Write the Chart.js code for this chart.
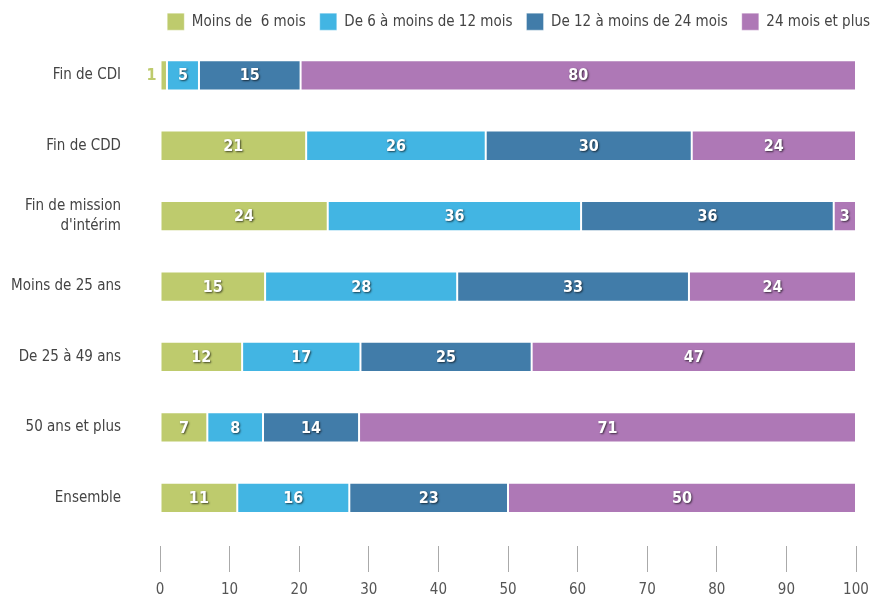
<!DOCTYPE html>
<html>
<head>
<meta charset="utf-8">
<script src="https://cdn.jsdelivr.net/npm/chart.js@4/dist/chart.umd.min.js"></script>
<style>
  html, body { margin: 0; padding: 0; background: #fff; overflow: hidden; }
  #wrap { width: 872px; height: 603px; margin-top: -9px; }
</style>
</head>
<body>
<div id="wrap"><canvas id="chart"></canvas></div>
<script>
// ========== DATA ========== //
const categories = [
  "Fin de CDI",
  "Fin de CDD",
  ["Fin de mission", "d'intérim"],
  "Moins de 25 ans",
  "De 25 à 49 ans",
  "50 ans et plus",
  "Ensemble"
];
const seriesNames = ["Moins de  6 mois", "De 6 à moins de 12 mois", "De 12 à moins de 24 mois", "24 mois et plus"];

const lessThan6 = [1.0, 21.0, 24.1, 15.1, 11.8, 6.8, 11.1];
const from6to12 = [4.6, 25.8, 36.4, 27.6, 17.0, 8.0, 16.1];
const from12to24 = [14.6, 29.6, 36.3, 33.3, 24.6, 13.8, 22.8];
const over24 = [79.8, 23.6, 3.2, 24.0, 46.6, 71.4, 50.0];

const xTicks = [0, 10, 20, 30, 40, 50, 60, 70, 80, 90, 100];

const colors = ["#BECB6D", "#42B5E3", "#417CA9", "#AE78B6"];
const FONT = "'Liberation Sans Narrow', 'DejaVu Sans Condensed', Roboto, sans-serif";

// ========== PLUGINS ========== //
const barLabels = {
  id: "barLabels",
  afterDatasetsDraw(chart) {
    const ctx = chart.ctx;
    ctx.save();
    ctx.font = "bold 16px " + FONT;
    ctx.textBaseline = "middle";
    chart.data.datasets.forEach((ds, di) => {
      const meta = chart.getDatasetMeta(di);
      meta.data.forEach((bar, i) => {
        const txt = String(Math.round(ds.data[i]));
        const w = Math.abs(bar.x - bar.base);
        if (w < 12) {
          // too thin: put the label outside, left of the bar
          ctx.shadowColor = "transparent";
          ctx.fillStyle = colors[di];
          ctx.textAlign = "right";
          ctx.fillText(txt, bar.base - 4, bar.y + 1);
        } else {
          ctx.shadowColor = "rgba(0,0,0,0.65)";
          ctx.shadowBlur = 2;
          ctx.shadowOffsetX = 1;
          ctx.shadowOffsetY = 1;
          ctx.fillStyle = "#fff";
          ctx.textAlign = "center";
          ctx.fillText(txt, (bar.x + bar.base) / 2, bar.y + 1);
        }
      });
    });
    ctx.restore();
  }
};

// push the legend to the right edge of the canvas
const legendShift = {
  id: "legendShift",
  beforeDraw(chart) {
    if (chart.legend) chart.legend.right = chart.width + 12;
  }
};

// ========== CHART ========== //
const seriesValues = [lessThan6, from6to12, from12to24, over24];

new Chart(document.getElementById("chart"), {
  type: "bar",
  data: {
    labels: categories,
    datasets: seriesValues.map((vals, i) => ({
      label: seriesNames[i],
      data: vals,
      backgroundColor: colors[i],
      borderColor: "rgba(255,255,255,0.35)",
      borderWidth: 1,
      borderSkipped: false,
      barPercentage: 0.43,
      categoryPercentage: 1
    }))
  },
  options: {
    indexAxis: "y",
    responsive: true,
    maintainAspectRatio: false,
    animation: false,
    layout: { padding: { left: 0, right: 16, top: 0, bottom: -14 } },
    plugins: {
      tooltip: { enabled: false },
      legend: {
        position: "top",
        align: "end",
        labels: {
          boxWidth: 17,
          boxHeight: 17,
          padding: 14,
          color: "#444",
          font: { family: FONT, size: 15 }
        }
      }
    },
    scales: {
      x: {
        stacked: true,
        min: 0,
        max: 100,
        afterBuildTicks: (scale) => { scale.ticks = xTicks.map(v => ({ value: v })); },
        afterFit: (scale) => { scale.paddingLeft = 0; scale.paddingRight = 0; },
        border: { display: false },
        grid: {
          drawOnChartArea: false,
          drawTicks: true,
          tickLength: 39,
          tickColor: "#aaa",
          tickBorderDash: [26, 13],
          tickBorderDashOffset: 26
        },
        ticks: {
          color: "#555",
          padding: 9,
          font: { family: FONT, size: 15 }
        }
      },
      y: {
        stacked: true,
        border: { display: false },
        grid: { display: false, drawTicks: false },
        afterFit: (scale) => { scale.width = 160; },
        ticks: {
          color: "#444",
          padding: 39,
          font: { family: FONT, size: 15, lineHeight: 1.35 }
        }
      }
    }
  },
  plugins: [barLabels, legendShift]
});
</script>
</body>
</html>
